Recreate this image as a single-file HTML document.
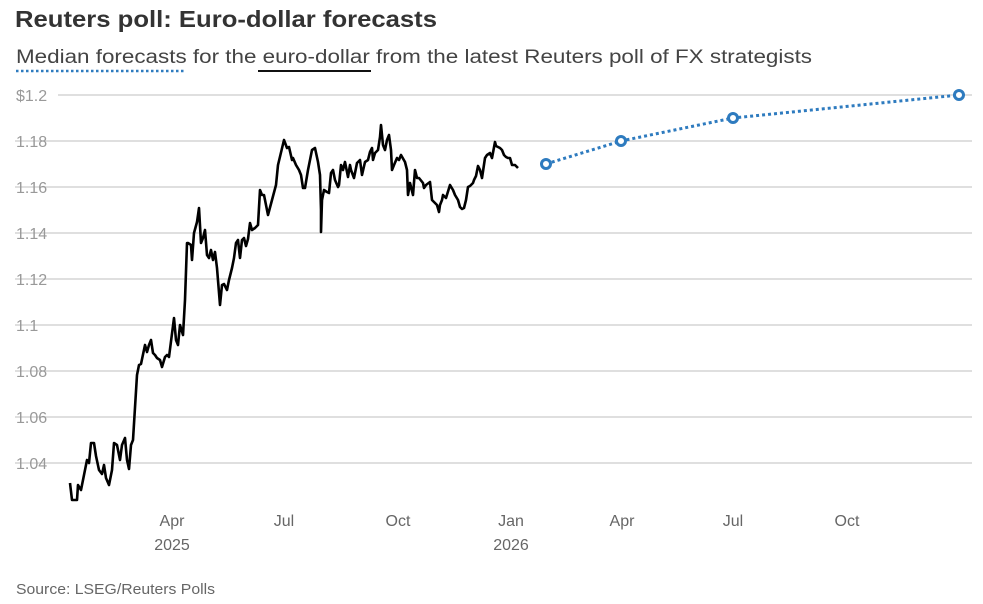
<!DOCTYPE html>
<html><head><meta charset="utf-8"><style>
body{margin:0;background:#fff;font-family:"Liberation Sans",sans-serif;}
</style></head><body>
<svg width="983" height="604" xmlns="http://www.w3.org/2000/svg" style="display:block">
<text x="15" y="27" font-size="23" font-weight="bold" fill="#333" textLength="422" lengthAdjust="spacingAndGlyphs">Reuters poll: Euro-dollar forecasts</text>
<text x="16" y="63" font-size="19" fill="#444" textLength="796" lengthAdjust="spacingAndGlyphs">Median forecasts for the euro-dollar from the latest Reuters poll of FX strategists</text>
<line x1="16" y1="71" x2="184" y2="71" stroke="#2e7bbf" stroke-width="2.5" stroke-dasharray="2.5,2.5"/>
<line x1="258" y1="71" x2="371" y2="71" stroke="#111" stroke-width="2"/>
<g stroke="#ccc" stroke-width="1.3">
<line x1="58" y1="95" x2="972" y2="95"/><line x1="15" y1="141" x2="972" y2="141"/>
<line x1="15" y1="187" x2="972" y2="187"/><line x1="15" y1="233" x2="972" y2="233"/>
<line x1="15" y1="279" x2="972" y2="279"/><line x1="15" y1="325" x2="972" y2="325"/>
<line x1="15" y1="371" x2="972" y2="371"/><line x1="15" y1="417" x2="972" y2="417"/>
<line x1="15" y1="463" x2="972" y2="463"/>
</g>
<g font-size="16" fill="#999">
<text x="16" y="101">$1.2</text><text x="16" y="147">1.18</text><text x="16" y="193">1.16</text>
<text x="16" y="239">1.14</text><text x="16" y="285">1.12</text><text x="16" y="331">1.1</text>
<text x="16" y="377">1.08</text><text x="16" y="423">1.06</text><text x="16" y="469">1.04</text>
</g>
<g font-size="16" fill="#666" text-anchor="middle">
<text x="172" y="526">Apr</text><text x="172" y="550">2025</text>
<text x="284" y="526">Jul</text><text x="398" y="526">Oct</text>
<text x="511" y="526">Jan</text><text x="511" y="550">2026</text>
<text x="622" y="526">Apr</text><text x="733" y="526">Jul</text><text x="847" y="526">Oct</text>
</g>
<polyline fill="none" stroke="#000" stroke-width="2.6" stroke-linejoin="round" points="70,483 72,500 77,500 78,485 81,490 85,470 87,460 89,463 91,443 94,443 96,456 99,470 102,474 104,465 106,478 109,485 112,470 114,443 117,445 120,460 122,445 125,438 127,460 129,469 131,445 133,440 137,375 139,365 141,364 145,345 147,352 149,345 151,340 153,353 155,355 157,358 160,360 162,367 165,357 167,355 169,357 174,318 176,340 178,345 180,325 183,335 185,300 187,243 188,243 191,245 192,260 194,233 197,222 199,208 201,243 203,238 205,230 207,255 209,258 211,250 213,260 215,252 217,268 220,305 222,285 224,284 227,290 229,280 232,268 234,258 236,243 238,240 240,258 242,240 244,238 246,246 248,239 250,223 252,230 255,228 258,225 260,190 262,195 264,195 268,215 272,200 276,185 278,165 284,140 287,148 289,147 292,160 293,158 296,165 299,170 301,175 303,188 305,188 308,170 312,150 315,148 318,162 320,175 321,210 321,232 322,200 324,190 327,192 329,193 331,173 333,170 335,180 338,187 339,185 341,165 343,170 345,162 348,177 350,165 351,170 354,178 357,163 360,160 362,175 365,162 368,160 370,152 372,148 373,160 375,153 378,150 380,137 381,125 383,145 385,150 387,140 389,135 391,150 392,170 394,165 397,158 399,160 401,155 405,162 407,170 408,195 410,183 413,195 415,170 417,178 419,178 423,183 424,188 426,185 430,182 432,200 434,202 437,205 439,212 440,205 442,200 443,195 446,198 450,185 453,190 455,195 458,200 460,207 462,209 464,208 466,200 468,187 470,186 473,183 474,180 476,176 478,166 480,170 482,178 485,158 487,155 490,153 492,158 495,142 496,146 500,148 502,150 504,155 506,157 508,158 510,158 512,165 515,165 518,168"/>
<polyline fill="none" stroke="#2e7bbf" stroke-width="3" stroke-dasharray="3,3" points="546,164 621,141 733,118 959,95"/>
<g fill="#fff" stroke="#2e7bbf" stroke-width="3">
<circle cx="546" cy="164" r="4.5"/><circle cx="621" cy="141" r="4.5"/>
<circle cx="733" cy="118" r="4.5"/><circle cx="959" cy="95" r="4.5"/>
</g>
<text x="16" y="594" font-size="15" fill="#666" textLength="199" lengthAdjust="spacingAndGlyphs">Source: LSEG/Reuters Polls</text>
</svg>
</body></html>
